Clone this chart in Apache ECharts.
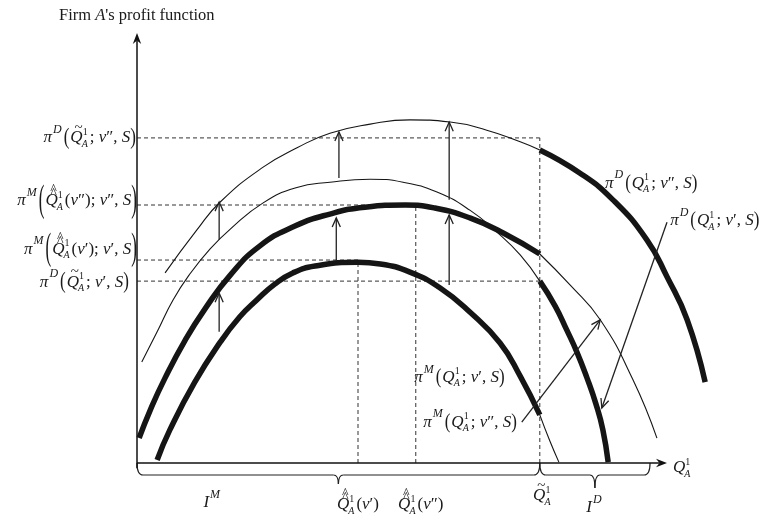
<!DOCTYPE html>
<html><head><meta charset="utf-8">
<script src="https://cdn.jsdelivr.net/npm/echarts@6/dist/echarts.min.js"></script>
<style>html,body{margin:0;padding:0;background:#fff}#c{width:765px;height:526px}</style>
</head><body><div id="c"></div>
<script>
// ---------------- data (x = Q_A^1, y = profit; arbitrary units) ----------------
const X_SCALE_MAX = 110, Y_MAX = 100;      // scale extents
const X_AXIS_END = 100, Y_AXIS_END = 100;  // where the drawn axis arrows end
const Q_TILDE = 76, Q_HAT_V1 = 41.7, Q_HAT_V2 = 52.6, I_D_END = 96.8;
const LEVEL_PID_V2 = 75.6, LEVEL_PIM_V2 = 60.0, LEVEL_PIM_V1 = 47.2, LEVEL_PID_V1 = 42.3;
const PEAK_PIM_V1 = 46.7, PEAK_PIM_V2 = 59.5;

const piM_v1_thick = [[3.8,0.7],[6.2,7.7],[10.9,18.8],[15.7,28.1],[19.4,34.0],[22.6,37.9],[26.0,41.6],[29.4,44.2],[33.6,45.8],[41.7,46.7],[45.9,46.3],[51.5,44.4],[57.2,40.7],[62.8,35.1],[68.5,27.9],[72.3,20.2],[76,11.2]];
const piM_v1_thin  = [[76,11.2],[77.9,5.1],[79.6,0.2]];
const piM_v2_thick = [[0.4,5.8],[2.5,12.3],[5.3,19.8],[9.1,28.6],[12.8,35.8],[17.6,43.7],[23.2,50.5],[29.8,55.1],[36.4,57.9],[43.0,59.5],[50.6,60.0],[56.2,59.3],[62.8,57.0],[69.1,53.5],[76,48.6]];
const piM_v2_thin  = [[76,48.6],[81.7,41.4],[87.4,33.3],[93.6,19.3],[98.1,5.8]];
const piD_v1_thin  = [[0.9,23.5],[3.8,30.5],[6.8,37.9],[10.0,44.0],[13.8,49.8],[17.6,54.4],[23.8,60.5],[30.0,64.0],[36.4,65.3],[44.0,66.0],[50.2,65.3],[56.6,63.0],[62.8,58.8],[67.9,53.7],[72.3,48.4],[76,42.3]];
const piD_v1_thick = [[76,42.3],[78.9,36.5],[81.1,30.9],[83.0,25.8],[84.9,19.8],[86.6,13.7],[87.9,7.7],[88.9,0.2]];
const piD_v2_thin  = [[5.3,44.2],[11.3,54.2],[15.7,60.7],[23.8,68.8],[30.2,73.3],[36.4,76.7],[44.0,78.8],[51.5,79.8],[59.1,79.3],[66.0,77.4],[72.3,74.7],[76,72.8]];
const piD_v2_thick = [[76,72.8],[83.6,67.4],[89.8,61.2],[96.2,51.9],[100,43.3],[103.8,33.3],[107.2,18.8]];

// vertical "shift" arrows: [x, yFrom, yTo]
const upArrows = [[15.5,30.5,39.5],[15.5,51.9,60.7],[37.6,47.2,57.0],[38.1,66.3,77.0],[58.9,41.4,57.7],[58.9,61.2,79.3]];
// label pointer arrows: [x1,y1,x2,y2]
const pointers = [[72.6,9.5,87.4,33.3],[100,56.0,87.7,12.8]];
// dashed guide segments: [x1,y1,x2,y2]
const dashed = [
  [0,LEVEL_PID_V2,Q_TILDE,LEVEL_PID_V2],
  [0,LEVEL_PIM_V2,Q_HAT_V2,LEVEL_PIM_V2],
  [0,LEVEL_PIM_V1,Q_HAT_V1,LEVEL_PIM_V1],
  [0,LEVEL_PID_V1,Q_TILDE,LEVEL_PID_V1],
  [Q_HAT_V1,0,Q_HAT_V1,PEAK_PIM_V1],
  [Q_HAT_V2,0,Q_HAT_V2,PEAK_PIM_V2],
  [Q_TILDE,0,Q_TILDE,LEVEL_PID_V2]
];
const axesLines = [[0,0,X_AXIS_END,0],[0,-1.2,0,Y_AXIS_END]];
const intervalM = [0, Q_TILDE], intervalD = [Q_TILDE, I_D_END];
const curveLabelAnchors = {D2:[88.3,65.1], D1:[100.6,56.3], M1:[52.3,19.8], M2:[54.0,9.5]};
const IM_LABEL_X = 14.3;

// ---------------- chart ----------------
const chart = echarts.init(document.getElementById('c'), null, {renderer:'canvas'});
const INK = '#151515';
function lineSeries(data, w){
  return {type:'line', data, smooth:0.5, symbol:'none', clip:false, silent:true,
    lineStyle:{color:INK, width:w, cap:'butt', join:'round'}, z:3};
}
function segRender(params, api){
  const a = api.coord([api.value(0), api.value(1)]), b = api.coord([api.value(2), api.value(3)]);
  return {type:'line', shape:{x1:a[0],y1:a[1],x2:b[0],y2:b[1]}, style:{stroke:'#333', lineWidth:1, lineDash:[4,3]}};
}
function arrowRender(params, api){
  const a = api.coord([api.value(0), api.value(1)]), b = api.coord([api.value(2), api.value(3)]);
  const ang = Math.atan2(b[1]-a[1], b[0]-a[0]), L = 10, sp = 0.42;
  const h1 = [b[0]-L*Math.cos(ang-sp), b[1]-L*Math.sin(ang-sp)];
  const h2 = [b[0]-L*Math.cos(ang+sp), b[1]-L*Math.sin(ang+sp)];
  return {type:'group', children:[
    {type:'line', shape:{x1:a[0],y1:a[1],x2:b[0],y2:b[1]}, style:{stroke:'#222', lineWidth:1.3}},
    {type:'polyline', shape:{points:[h1,b,h2]}, style:{stroke:'#222', lineWidth:1.3, fill:null}}
  ]};
}
function axisRender(params, api){
  const a = api.coord([api.value(0), api.value(1)]), b = api.coord([api.value(2), api.value(3)]);
  const ang = Math.atan2(b[1]-a[1], b[0]-a[0]), c = Math.cos(ang), s = Math.sin(ang);
  const back = 11, half = 4.2, notch = 7.5;
  const pts = [b, [b[0]-back*c - half*s, b[1]-back*s + half*c], [b[0]-notch*c, b[1]-notch*s], [b[0]-back*c + half*s, b[1]-back*s - half*c]];
  return {type:'group', children:[
    {type:'line', shape:{x1:a[0],y1:a[1],x2:b[0]-notch*c,y2:b[1]-notch*s}, style:{stroke:'#111', lineWidth:1.5}},
    {type:'polygon', shape:{points:pts}, style:{fill:'#111'}}
  ]};
}
const axisCommon = {type:'value', min:0, splitLine:{show:false}, axisTick:{show:false}, axisLabel:{show:false}, axisLine:{show:false}};

chart.setOption({
  animation:false,
  backgroundColor:'#fff',
  grid:{left:137, right:45, top:33, bottom:63},
  xAxis:Object.assign({}, axisCommon, {max:X_SCALE_MAX}),
  yAxis:Object.assign({}, axisCommon, {max:Y_MAX}),
  series:[
    {type:'custom', renderItem:segRender, data:dashed, encode:{x:[0,2], y:[1,3]}, silent:true, z:1},
    {type:'custom', renderItem:axisRender, data:axesLines, encode:{x:[0,2], y:[1,3]}, silent:true, z:2},
    lineSeries(piM_v1_thick,5.5), lineSeries(piM_v1_thin,1.1),
    lineSeries(piM_v2_thick,5.5), lineSeries(piM_v2_thin,1.1),
    lineSeries(piD_v1_thin,1.1), lineSeries(piD_v1_thick,5.5),
    lineSeries(piD_v2_thin,1.1), lineSeries(piD_v2_thick,5.5),
    {type:'custom', renderItem:arrowRender, data:upArrows.map(a=>[a[0],a[1],a[0],a[2]]), encode:{x:[0,2], y:[1,3]}, silent:true, z:4},
    {type:'custom', renderItem:arrowRender, data:pointers, encode:{x:[0,2], y:[1,3]}, silent:true, z:4}
  ]
});

// ---------------- math-style text layout ----------------
const ctx = document.createElement('canvas').getContext('2d');
const FAM = '"Liberation Serif", "Times New Roman", serif';
function tw(s, size, it){ ctx.font = (it?'italic ':'') + size + 'px ' + FAM; return ctx.measureText(s).width; }
function mathLabel(tokens, ax, ay, align, base){
  base = base || 17;
  const k2 = base/17;
  const items = []; let cx = 0;
  for (const t of tokens){
    const k = t[0];
    if (k==='t'){ const sz = t[3]||base; items.push({s:t[1], x:cx, dy:0, size:sz, it:!!t[2]}); cx += tw(t[1], sz, !!t[2]); }
    else if (k==='sup'){ const sz = 12*k2; items.push({s:t[1], x:cx+1, dy:-8*k2, size:sz, it:true}); cx += tw(t[1],sz,true)+3; }
    else if (k==='ss'){ const sz = 10*k2; items.push({s:t[1], x:cx, dy:-6*k2, size:sz, it:false}); items.push({s:t[2], x:cx-1, dy:6*k2, size:sz, it:true});
      cx += Math.max(tw(t[1],sz,false), tw(t[2],sz,true)) + 1; }
    else if (k==='acc'){ const bw = tw(t[1], base, true); items.push({s:t[1], x:cx, dy:0, size:base, it:true});
      const mid = cx + bw/2 + 2;
      if (t[2]==='tilde') items.push({s:'~', x:mid, dy:-10*k2, size:15*k2, it:false, c:true});
      if (t[2]==='hat2'){ items.push({s:'^', x:mid, dy:-6.5*k2, size:14*k2, it:false, c:true}); items.push({s:'^', x:mid, dy:-10.5*k2, size:14*k2, it:false, c:true}); }
      cx += bw; }
    else if (k==='par'){ items.push({s:t[1], x:cx, dy:0, size:base, it:false, sy:t[2]}); cx += tw(t[1], base, false) + (t[3]||0); }
  }
  const x0 = align==='right' ? ax - cx : (align==='center' ? ax - cx/2 : ax);
  return items.map(it => ({type:'text', x:x0+it.x, y:ay+it.dy, scaleY:it.sy||1, silent:true, z:10,
    style:{text:it.s, fontSize:it.size, fontFamily:FAM, fontStyle:it.it?'italic':'normal', fill:'#1a1a1a',
      align:it.c?'center':'left', verticalAlign:'middle'}}));
}
const T = (s,it)=>['t',s,it];
function piLabel(kind, qAcc, qArg, vMark, parScale){
  const toks = [T('π',true), ['sup',kind], ['par','(',parScale,1]];
  toks.push(qAcc ? ['acc','Q',qAcc] : T('Q',true));
  toks.push(['ss','1','A']);
  if (qArg){ toks.push(T('(',false), T('v',true), T(qArg,false), T(')',false)); }
  toks.push(T(';',false), T(' v',true), T(vMark,false), T(', ',false), T('S',true), ['par',')',parScale]);
  return toks;
}

const px = (x,y)=>chart.convertToPixel({gridIndex:0},[x,y]);
const g = [];
// title
g.push(...mathLabel([T('Firm ',false), T('A',true), T("'s profit function",false)], 59, 16, 'left', 16.5));
// left axis labels
let p;
p = px(0, LEVEL_PID_V2); g.push(...mathLabel(piLabel('D','tilde',null,'″',1.3), p[0]-1, p[1], 'right'));
p = px(0, LEVEL_PIM_V2); g.push(...mathLabel(piLabel('M','hat2','″','″',2.2), p[0], p[1]-4, 'right'));
p = px(0, LEVEL_PIM_V1); g.push(...mathLabel(piLabel('M','hat2','′','′',2.2), p[0], p[1]-11, 'right'));
p = px(0, LEVEL_PID_V1); g.push(...mathLabel(piLabel('D','tilde',null,'′',1.3), p[0]-8, p[1]+1, 'right'));
// curve labels
p = px(...curveLabelAnchors.D2); g.push(...mathLabel(piLabel('D',null,null,'″',1.25), p[0], p[1], 'left'));
p = px(...curveLabelAnchors.D1); g.push(...mathLabel(piLabel('D',null,null,'′',1.25), p[0], p[1], 'left'));
p = px(...curveLabelAnchors.M1); g.push(...mathLabel(piLabel('M',null,null,'′',1.25), p[0], p[1], 'left'));
p = px(...curveLabelAnchors.M2); g.push(...mathLabel(piLabel('M',null,null,'″',1.25), p[0], p[1], 'left'));
// x-axis labels
p = px(Q_HAT_V1, 0); g.push(...mathLabel([['acc','Q','hat2'],['ss','1','A'],T('(',false),T('v',true),T('′',false),T(')',false)], p[0], p[1]+42, 'center'));
p = px(Q_HAT_V2, 0); g.push(...mathLabel([['acc','Q','hat2'],['ss','1','A'],T('(',false),T('v',true),T('″',false),T(')',false)], p[0]+5, p[1]+42, 'center'));
p = px(Q_TILDE, 0); g.push(...mathLabel([['acc','Q','tilde'],['ss','1','A']], p[0]+3, p[1]+33, 'center'));
p = px(IM_LABEL_X, 0); g.push(...mathLabel([T('I',true),['sup','M']], p[0], p[1]+40, 'center'));
p = px(X_AXIS_END, 0); g.push(...mathLabel([T('Q',true),['ss','1','A']], p[0]+6, p[1]+5, 'left'));
// braces
function brace(x0v, x1v, tipLen){
  const a = px(x0v,0), b = px(x1v,0), y0 = a[1], yb = y0 + 12, tip = (a[0]+b[0])/2, c = 6;
  const st = {stroke:'#222', lineWidth:1.2, fill:null};
  return [
    {type:'bezierCurve', shape:{x1:a[0],y1:y0,x2:a[0]+c,y2:yb,cpx1:a[0],cpy1:yb}, style:st, silent:true},
    {type:'line', shape:{x1:a[0]+c,y1:yb,x2:tip-5,y2:yb}, style:st, silent:true},
    {type:'bezierCurve', shape:{x1:tip-5,y1:yb,x2:tip,y2:yb+tipLen,cpx1:tip,cpy1:yb}, style:st, silent:true},
    {type:'bezierCurve', shape:{x1:tip+5,y1:yb,x2:tip,y2:yb+tipLen,cpx1:tip,cpy1:yb}, style:st, silent:true},
    {type:'line', shape:{x1:tip+5,y1:yb,x2:b[0]-c,y2:yb}, style:st, silent:true},
    {type:'bezierCurve', shape:{x1:b[0]-c,y1:yb,x2:b[0],y2:y0,cpx1:b[0],cpy1:yb}, style:st, silent:true}
  ];
}
g.push(...brace(intervalM[0], intervalM[1], 9));
g.push(...brace(intervalD[0], intervalD[1], 13));
p = px((intervalD[0]+intervalD[1])/2, 0); g.push(...mathLabel([T('I',true),['sup','D']], p[0], p[1]+45, 'center'));

chart.setOption({graphic:{elements:g}});
</script></body></html>
